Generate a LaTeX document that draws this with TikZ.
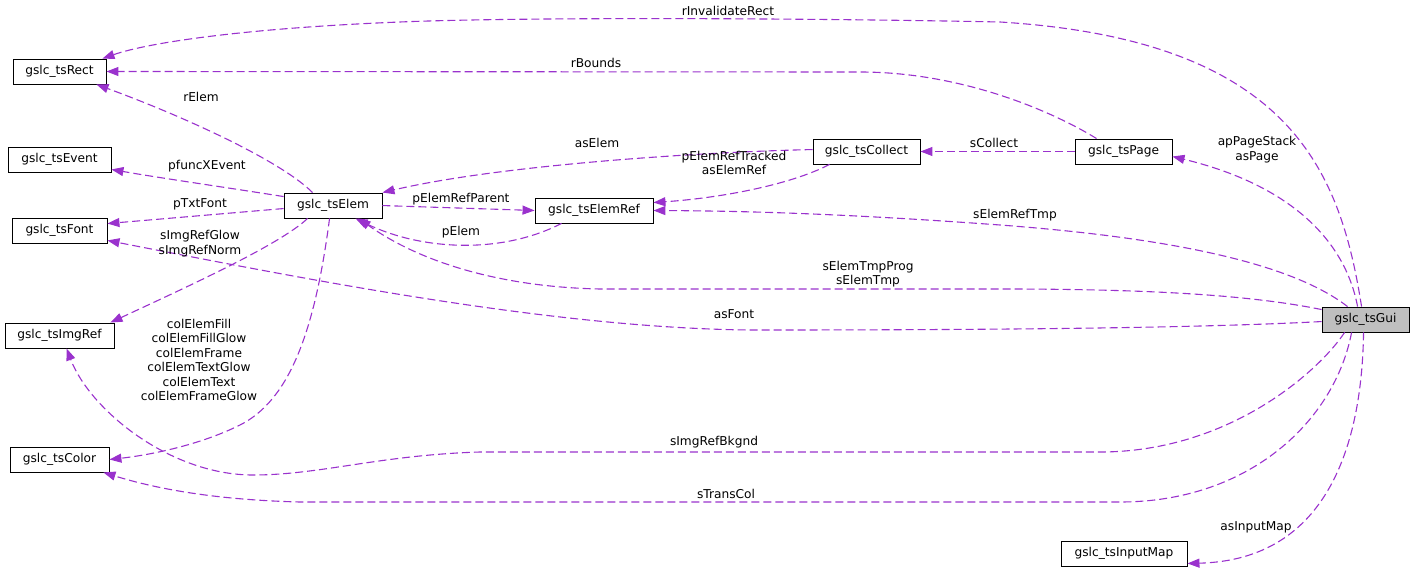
\documentclass[tikz,border=0pt]{standalone}
\usepackage{fontspec}
\setmainfont{DejaVu Sans}
\usetikzlibrary{arrows.meta,calc}
\definecolor{edgec}{RGB}{154,50,205}
\begin{document}
\begin{tikzpicture}[x=1pt,y=-1pt,
  cls/.style={draw=black,line width=0.9pt,inner sep=0pt,minimum height=25pt,font=\fontsize{12.2}{14.5}\selectfont,fill=white},
  rel/.style={draw=edgec,line width=1.1pt,dash pattern=on 8pt off 4pt,-{Triangle[length=12pt,width=9pt,fill=edgec]}},
  lbl/.style={font=\fontsize{12.2}{14.5}\selectfont,align=center,inner sep=0pt}]
\useasboundingbox (0,0) rectangle (1415,572);
% nodes
\node[cls,minimum width=93pt]  (rect)    at (59.5,71.5)  {gslc\_tsRect};
\node[cls,minimum width=103pt] (event)   at (59.5,159.5) {gslc\_tsEvent};
\node[cls,minimum width=95pt]  (font)    at (59.5,230.5) {gslc\_tsFont};
\node[cls,minimum width=109pt] (imgref)  at (59.5,335.5) {gslc\_tsImgRef};
\node[cls,minimum width=99pt]  (color)   at (59.5,459.5) {gslc\_tsColor};
\node[cls,minimum width=98pt]  (elem)    at (333,205.5)  {gslc\_tsElem};
\node[cls,minimum width=118pt] (elemref) at (594,210.5)  {gslc\_tsElemRef};
\node[cls,minimum width=107pt] (collect) at (866.5,151.5) {gslc\_tsCollect};
\node[cls,minimum width=97pt]  (page)    at (1123.5,151.5) {gslc\_tsPage};
\node[cls,minimum width=87pt,fill={rgb,255:red,191;green,191;blue,191}] (gui) at (1365.5,319.5) {gslc\_tsGui};
\node[cls,minimum width=126pt] (inmap)   at (1124,553.5) {gslc\_tsInputMap};
% edges
\draw[rel] ($(gui.north west)+(40,0)$) .. controls (1340,170) and (1290,40) .. (1000,22)
   .. controls (800,18) and (520,17) .. (400,22) .. controls (250,28) and (150,42) .. ($(rect.north east)+(-4,0)$);
\draw[rel] ($(page.north west)+(22,0)$) .. controls (1050,110) and (960,72) .. (860,72) -- (rect.east);
\draw[rel] ($(elem.north west)+(29,0)$) .. controls (280,160) and (180,115) .. ($(rect.south east)+(-10,0)$);
\draw[rel] ($(elem.north west)+(0,4)$) .. controls (230,188) and (160,178) .. ($(event.south east)+(0,-3)$);
\draw[rel] ($(elem.north west)+(0,16)$) -- ($(font.north east)+(0,6)$);
\draw[rel] ($(elem.south west)+(24,0)$) .. controls (280,245) and (180,290) .. ($(imgref.north east)+(-4,0)$);
\draw[rel] ($(elem.south west)+(46,0)$) .. controls (315,330) and (290,400) .. (240,425)
   .. controls (200,445) and (150,455) .. (color.east);
\draw[rel] ($(elem.north east)+(0,13)$) -- (elemref.west);
\draw[rel] ($(elemref.south west)+(27,0)$) .. controls (500,255) and (420,250) .. ($(elem.south west)+(72,0)$);
\draw[rel] ($(gui.north west)+(0,3)$) .. controls (1250,295) and (1150,289) .. (1000,289) -- (600,289)
   .. controls (500,287) and (420,262) .. ($(elem.south west)+(75,0)$);
\draw[rel] ($(collect.north west)+(0,11)$) .. controls (700,152) and (500,165) .. (elem.north east);
\draw[rel] ($(collect.south west)+(17,0)$) .. controls (790,185) and (720,198) .. ($(elemref.north east)+(0,5)$);
\draw[rel] ($(gui.north west)+(26,0)$) .. controls (1300,270) and (1200,240) .. (1000,225)
   .. controls (850,214) and (750,211) .. (elemref.east);
\draw[rel] (page.west) -- (collect.east);
\draw[rel] ($(gui.north west)+(36,0)$) .. controls (1345,240) and (1290,185) .. ($(page.east)+(0,5)$);
\draw[rel] ($(gui.north west)+(0,15)$) .. controls (1200,328) and (1000,330) .. (750,330)
   .. controls (550,328) and (300,278) .. ($(font.south east)+(0,-3)$);
\draw[rel] ($(gui.south west)+(23,0)$) .. controls (1320,370) and (1230,452) .. (1100,452) -- (480,452)
   .. controls (380,455) and (320,475) .. (253,475) .. controls (170,475) and (90,410) .. ($(imgref.south west)+(62,0)$);
\draw[rel] ($(gui.south west)+(30,0)$) .. controls (1335,420) and (1250,502) .. (1120,502) -- (300,502)
   .. controls (220,500) and (160,490) .. ($(color.south east)+(-6,0)$);
\draw[rel] ($(gui.south west)+(42,0)$) .. controls (1362,440) and (1330,560) .. ($(inmap.south east)+(0,-3)$);
% labels
\node[lbl] (l1)  at (728,11)  {rInvalidateRect};
\node[lbl] (l2)  at (596,63)  {rBounds};
\node[lbl] (l3)  at (201,97)  {rElem};
\node[lbl] (l4)  at (207,166) {pfuncXEvent};
\node[lbl] (l5)  at (200,204) {pTxtFont};
\node[lbl] (l6)  at (200,243.5) {sImgRefGlow\\sImgRefNorm};
\node[lbl] (l7)  at (199,360) {colElemFill\\colElemFillGlow\\colElemFrame\\colElemTextGlow\\colElemText\\colElemFrameGlow};
\node[lbl] (l8)  at (461,199) {pElemRefParent};
\node[lbl] (l9)  at (461,232) {pElem};
\node[lbl] (l10) at (597,143) {asElem};
\node[lbl] (l11) at (734,163) {pElemRefTracked\\asElemRef};
\node[lbl] (l12) at (868,274) {sElemTmpProg\\sElemTmp};
\node[lbl] (l13) at (1015,215) {sElemRefTmp};
\node[lbl] (l14) at (994,143) {sCollect};
\node[lbl] (l15) at (1257,149.5) {apPageStack\\asPage};
\node[lbl] (l16) at (734,314) {asFont};
\node[lbl] (l17) at (714,442) {sImgRefBkgnd};
\node[lbl] (l18) at (726,494) {sTransCol};
\node[lbl] (l19) at (1256,527) {asInputMap};
\end{tikzpicture}
\end{document}
